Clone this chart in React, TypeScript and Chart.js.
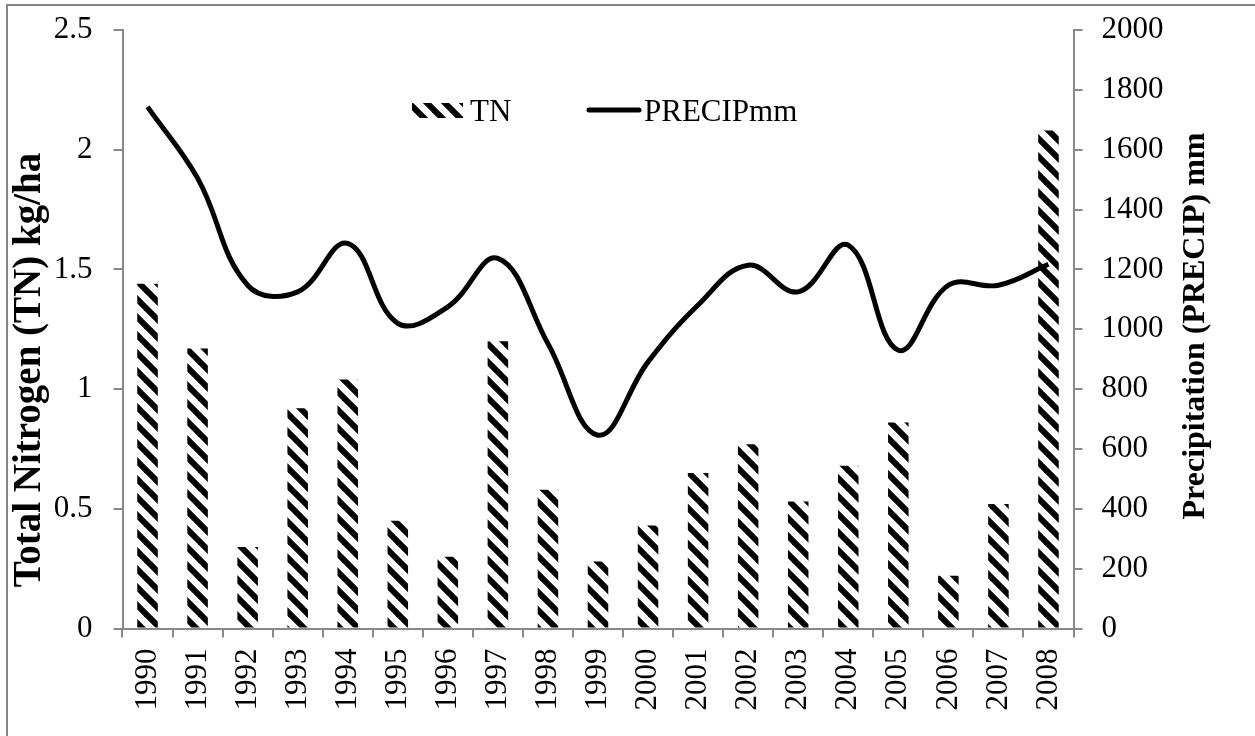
import React, { useEffect, useRef } from 'react';
import { Chart, registerables } from 'chart.js';

Chart.register(...registerables);

const years = ['1990', '1991', '1992', '1993', '1994', '1995', '1996', '1997', '1998', '1999', '2000', '2001', '2002', '2003', '2004', '2005', '2006', '2007', '2008'];
const tnValues = [1.44, 1.17, 0.34, 0.92, 1.04, 0.45, 0.30, 1.20, 0.58, 0.28, 0.43, 0.65, 0.77, 0.53, 0.68, 0.86, 0.22, 0.52, 2.08];
const precipValues = [1743, 1505, 1147, 1125, 1287, 1020, 1075, 1237, 952, 646, 891, 1081, 1214, 1125, 1281, 930, 1147, 1147, 1217];
const tnAxis = { min: 0, max: 2.5, step: 0.5 };
const precipAxis = { min: 0, max: 2000, step: 200 };
const tnLabel = 'TN';
const precipLabel = 'PRECIPmm';
const leftTitle = 'Total Nitrogen (TN) kg/ha';
const rightTitle = 'Precipitation (PRECIP) mm';

const SERIF = '"Liberation Serif", "Times New Roman", serif';
const AXIS_GRAY = '#898989';

function makeHatch(): CanvasPattern | string {
  const P = 18;
  const c = document.createElement('canvas');
  c.width = P;
  c.height = P;
  const g = c.getContext('2d');
  if (!g) return '#000';
  g.fillStyle = '#fff';
  g.fillRect(0, 0, P, P);
  g.strokeStyle = '#000';
  g.lineWidth = 6;
  for (let k = -1; k <= 1; k++) {
    g.beginPath();
    g.moveTo(k * P - 3, -3);
    g.lineTo(k * P + P + 3, P + 3);
    g.stroke();
  }
  const pat = g.createPattern(c, 'repeat');
  return pat || '#000';
}

export default function App() {
  const ref = useRef<HTMLCanvasElement | null>(null);

  useEffect(() => {
    const canvas = ref.current;
    if (!canvas) return;
    const hatch = makeHatch();

    const decor = {
      id: 'decor',
      afterDraw(chart: any) {
        const ctx = chart.ctx as CanvasRenderingContext2D;
        ctx.save();
        // Left axis title
        ctx.fillStyle = '#000';
        ctx.font = `bold 39px ${SERIF}`;
        ctx.textAlign = 'center';
        ctx.textBaseline = 'middle';
        ctx.save();
        ctx.translate(30, 370);
        ctx.rotate(-Math.PI / 2);
        ctx.fillText(leftTitle, 0, 0);
        ctx.restore();
        // Right axis title
        ctx.font = `bold 32px ${SERIF}`;
        ctx.save();
        ctx.translate(1196, 326);
        ctx.rotate(-Math.PI / 2);
        ctx.fillText(rightTitle, 0, 0);
        ctx.restore();
        // Legend
        ctx.fillStyle = hatch as any;
        ctx.fillRect(412, 103, 51, 15);
        ctx.fillStyle = '#000';
        ctx.font = `31px ${SERIF}`;
        ctx.textAlign = 'left';
        ctx.textBaseline = 'alphabetic';
        ctx.fillText(tnLabel, 470, 121);
        ctx.strokeStyle = '#000';
        ctx.lineWidth = 5;
        ctx.lineCap = 'round';
        ctx.beginPath();
        ctx.moveTo(589, 110);
        ctx.lineTo(639, 110);
        ctx.stroke();
        ctx.fillText(precipLabel, 644, 121);
        ctx.restore();
      },
    };

    const chart = new Chart(canvas, {
      type: 'bar',
      data: {
        labels: years,
        datasets: [
          {
            type: 'line',
            label: precipLabel,
            data: precipValues,
            yAxisID: 'y1',
            borderColor: '#000',
            borderWidth: 5,
            pointRadius: 0,
            tension: 0.4,
            fill: false,
            order: 0,
          } as any,
          {
            type: 'bar',
            label: tnLabel,
            data: tnValues,
            yAxisID: 'y',
            backgroundColor: hatch as any,
            borderWidth: 0,
            barPercentage: 0.41,
            categoryPercentage: 1,
            order: 1,
          } as any,
        ],
      },
      options: {
        responsive: false,
        animation: false,
        devicePixelRatio: 1,
        layout: { padding: { top: 30, left: 0, right: 0, bottom: 0 } },
        plugins: {
          legend: { display: false },
          tooltip: { enabled: false },
        },
        scales: {
          x: {
            afterFit: (s: any) => { s.height = 107.5; s.paddingLeft = 0; s.paddingRight = 0; },
            grid: { drawOnChartArea: false, color: AXIS_GRAY, lineWidth: 2, tickLength: 9, offset: true },
            border: { display: true, color: AXIS_GRAY, width: 2 },
            ticks: {
              autoSkip: false,
              maxRotation: 90,
              minRotation: 90,
              padding: 11,
              color: '#000',
              font: { family: SERIF, size: 31 },
            },
          },
          y: {
            position: 'left',
            min: tnAxis.min,
            max: tnAxis.max,
            afterFit: (s: any) => { s.width = 122.5; s.paddingTop = 0; s.paddingBottom = 0; },
            grid: { drawOnChartArea: false, color: AXIS_GRAY, lineWidth: 2, tickLength: 9 },
            border: { display: true, color: AXIS_GRAY, width: 2 },
            ticks: {
              stepSize: tnAxis.step,
              padding: 21,
              color: '#000',
              font: { family: SERIF, size: 31 },
              callback: (v: any) => String(v),
            },
          },
          y1: {
            position: 'right',
            min: precipAxis.min,
            max: precipAxis.max,
            afterFit: (s: any) => { s.width = 181.5; s.paddingTop = 0; s.paddingBottom = 0; },
            grid: { drawOnChartArea: false, color: AXIS_GRAY, lineWidth: 2, tickLength: 9 },
            border: { display: true, color: AXIS_GRAY, width: 2 },
            ticks: {
              stepSize: precipAxis.step,
              padding: 19,
              color: '#000',
              font: { family: SERIF, size: 31 },
              callback: (v: any) => String(v),
            },
          },
        },
      },
      plugins: [decor],
    });

    return () => chart.destroy();
  }, []);

  return (
    <div style={{ position: 'fixed', left: 0, top: 0, width: 1255, height: 736, overflow: 'hidden', background: '#fff' }}>
      <div
        style={{
          position: 'absolute',
          left: 6,
          top: 4,
          width: 1400,
          height: 900,
          borderLeft: '2px solid #868686',
          borderTop: '2px solid #868686',
        }}
      />
      <canvas ref={ref} width={1255} height={736} style={{ position: 'absolute', left: 0, top: 0, width: 1255, height: 736 }} />
    </div>
  );
}
